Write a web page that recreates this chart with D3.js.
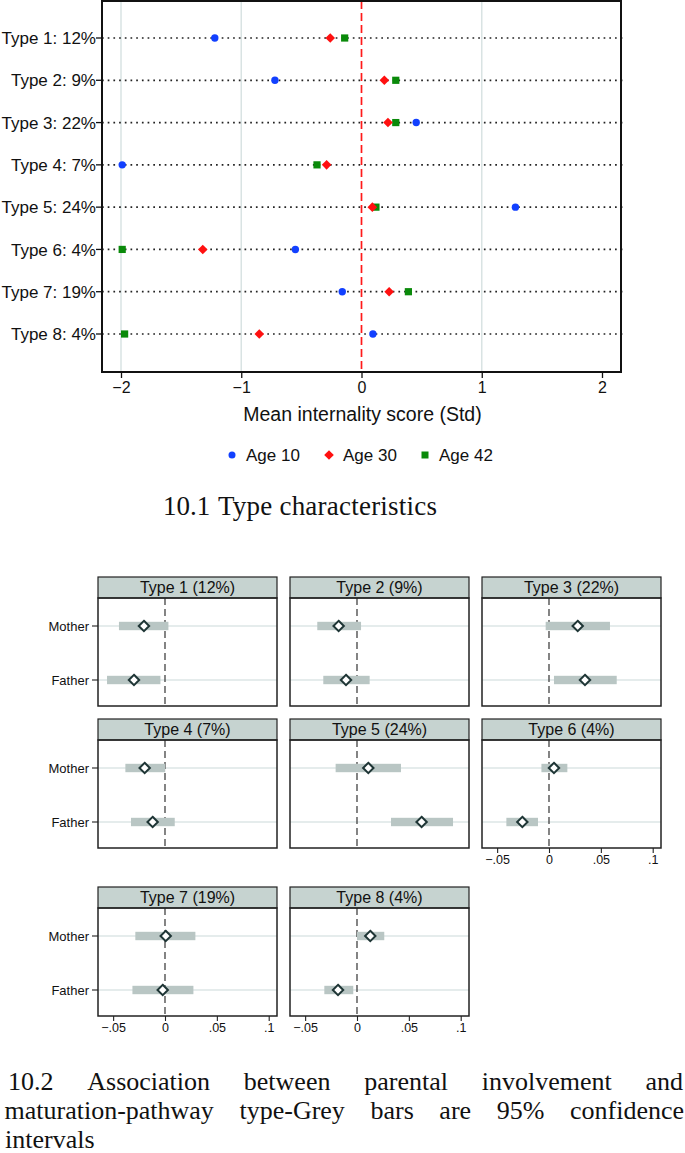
<!DOCTYPE html>
<html><head><meta charset="utf-8">
<script src="https://cdn.jsdelivr.net/npm/d3@7"></script>
<style>body{margin:0;background:#fff}svg{display:block}</style>
</head><body>
<svg id="c" width="685" height="1153"></svg>
<script>
// ---------- data: panel 10.1 ----------
const types = ["Type 1: 12%","Type 2: 9%","Type 3: 22%","Type 4: 7%","Type 5: 24%","Type 6: 4%","Type 7: 19%","Type 8: 4%"];
const age10 = [-1.22,-0.72,0.455,-1.99,1.28,-0.55,-0.16,0.095];
const age30 = [-0.26,0.19,0.22,-0.29,0.09,-1.32,0.23,-0.85];
const age42 = [-0.14,0.285,0.285,-0.37,0.12,-1.99,0.39,-1.97];
const seriesNames = ["Age 10","Age 30","Age 42"];
const xTicks = [-2,-1,0,1,2];
const gridTicks = [-2,-1,1];
const caption1Num = "10.1";
const caption1Text = "Type characteristics";

// ---------- data: panel 10.2 ----------
const panelTitles = ["Type 1 (12%)","Type 2 (9%)","Type 3 (22%)","Type 4 (7%)","Type 5 (24%)","Type 6 (4%)","Type 7 (19%)","Type 8 (4%)"];
const parents = ["Mother","Father"];
const motherEst = [-0.0203,-0.0177,0.0277,-0.0196,0.0109,0.0048,0.0007,0.0128];
const motherLo  = [-0.0444,-0.0383,-0.0032,-0.0382,-0.0206,-0.0073,-0.0286,0.0000];
const motherHi  = [0.0033,0.0039,0.0588,0.0002,0.0424,0.0177,0.0293,0.0263];
const fatherEst = [-0.0299,-0.0106,0.0347,-0.0119,0.0623,-0.0257,-0.0022,-0.0183];
const fatherLo  = [-0.0559,-0.0325,0.0048,-0.0328,0.0328,-0.0411,-0.0314,-0.0315];
const fatherHi  = [-0.0044,0.0122,0.0653,0.0094,0.0926,-0.0106,0.0274,-0.0036];
const panelTicks = [-0.05,0,0.05,0.1];
const caption2Lines = [
  "10.2 Association between parental involvement and",
  "maturation-pathway type-Grey bars are 95% confidence",
  "intervals"
];

const SANS = "'Liberation Sans', Arial, Helvetica, sans-serif";
const SERIF = "'Liberation Serif', 'Times New Roman', serif";
const svg = d3.select("#c");

// ================= Chart 1 =================
const f1 = {left:102, right:621, top:1, bottom:372};
const x1 = d3.scaleLinear().domain([-2.158, 2.158]).range([f1.left, f1.right]);
const y1 = d3.scalePoint().domain(types).range([38, 334]);
const g1 = svg.append("g");

g1.selectAll("line.grid").data(gridTicks).join("line")
  .attr("x1", d=>x1(d)).attr("x2", d=>x1(d)).attr("y1", f1.top).attr("y2", f1.bottom)
  .attr("stroke", "#d9e3e3").attr("stroke-width", 1.5);

g1.selectAll("line.row").data(types).join("line")
  .attr("x1", f1.left).attr("x2", f1.right+2).attr("y1", d=>y1(d)).attr("y2", d=>y1(d))
  .attr("stroke", "#222").attr("stroke-width", 1.7).attr("stroke-dasharray", "1.7,4");

g1.append("line").attr("x1", x1(0)).attr("x2", x1(0)).attr("y1", f1.top).attr("y2", f1.bottom)
  .attr("stroke", "#ff1a1a").attr("stroke-width", 1.7).attr("stroke-dasharray", "8,4");

g1.append("rect").attr("x", f1.left).attr("y", f1.top).attr("width", f1.right-f1.left).attr("height", f1.bottom-f1.top)
  .attr("fill", "none").attr("stroke", "#111").attr("stroke-width", 2);

g1.selectAll("line.yt").data(types).join("line")
  .attr("x1", f1.left-6).attr("x2", f1.left).attr("y1", d=>y1(d)).attr("y2", d=>y1(d))
  .attr("stroke", "#111").attr("stroke-width", 1.3);
g1.selectAll("text.yl").data(types).join("text")
  .attr("x", f1.left-6).attr("y", d=>y1(d)).attr("dy", "0.36em").attr("text-anchor", "end")
  .attr("font-family", SANS).attr("font-size", 17).attr("fill", "#111").text(d=>d);

const ax1 = g1.append("g").attr("transform", `translate(0,${f1.bottom})`)
  .call(d3.axisBottom(x1).tickValues(xTicks).tickSize(6).tickPadding(4)
    .tickFormat(d => d < 0 ? "\u2212" + Math.abs(d) : String(d)));
ax1.select(".domain").remove();
ax1.selectAll("line").attr("stroke", "#111").attr("stroke-width", 1.3);
ax1.selectAll("text").attr("font-family", SANS).attr("font-size", 16).attr("fill", "#111");

g1.append("text").attr("x", x1(0)+1).attr("y", 421).attr("text-anchor", "middle")
  .attr("font-family", SANS).attr("font-size", 19.5).attr("fill", "#111").text("Mean internality score (Std)");

const diamond = (cx, cy, r) => `M${cx},${cy-r}L${cx+r},${cy}L${cx},${cy+r}L${cx-r},${cy}Z`;
const mk = g1.append("g");
mk.selectAll("circle").data(age10).join("circle")
  .attr("cx", d=>x1(d)).attr("cy", (d,i)=>y1(types[i])).attr("r", 3.7).attr("fill", "#1240ff");
mk.selectAll("rect").data(age42).join("rect")
  .attr("x", d=>x1(d)-3.6).attr("y", (d,i)=>y1(types[i])-3.6).attr("width", 7.2).attr("height", 7.2).attr("fill", "#0a8a0a");
mk.selectAll("path").data(age30).join("path")
  .attr("d", (d,i)=>diamond(x1(d), y1(types[i]), 4.8)).attr("fill", "#ff1010");

const lg = g1.append("g").attr("font-family", SANS).attr("font-size", 17).attr("fill", "#111");
const legX = [232, 329, 425], legY = 455;
lg.append("circle").attr("cx", legX[0]).attr("cy", legY).attr("r", 3.5).attr("fill", "#1240ff");
lg.append("path").attr("d", diamond(legX[1], legY, 4.8)).attr("fill", "#ff1010");
lg.append("rect").attr("x", legX[2]-3.5).attr("y", legY-3.5).attr("width", 7).attr("height", 7).attr("fill", "#0a8a0a");
seriesNames.forEach((s,i)=>{
  lg.append("text").attr("x", legX[i]+14).attr("y", legY).attr("dy", "0.36em").text(s);
});

// caption 1
svg.append("text").attr("x", 163).attr("y", 515).attr("font-family", SERIF).attr("font-size", 27).attr("fill", "#111").text(caption1Num);
svg.append("text").attr("x", 218).attr("y", 515).attr("font-family", SERIF).attr("font-size", 27).attr("fill", "#111")
  .attr("textLength", 219).attr("lengthAdjust", "spacing").text(caption1Text);

// ================= Chart 2 (small multiples) =================
const colLeft = [98, 290, 482], rowTop = [577, 719, 887];
const PW = 179, HH = 21, PH = 108;
const xp = d3.scaleLinear().domain([-0.0646, 0.108]).range([0, PW]);
const yp = d3.scalePoint().domain(parents).range([28, 82]);
const tickFmt = d => d === 0 ? "0" : (d < 0 ? "\u2212" : "") + String(Math.abs(d)).replace(/^0/, "");

panelTitles.forEach((title, i) => {
  const col = i % 3, row = Math.floor(i / 3);
  const px = colLeft[col], py = rowTop[row];
  const g = svg.append("g").attr("transform", `translate(${px},${py})`);
  g.append("rect").attr("x", 0).attr("y", 0).attr("width", PW).attr("height", HH)
    .attr("fill", "#c6d3d0").attr("stroke", "#222").attr("stroke-width", 1.2);
  g.append("text").attr("x", PW/2).attr("y", HH/2).attr("dy", "0.36em").attr("text-anchor", "middle")
    .attr("font-family", SANS).attr("font-size", 16).attr("fill", "#111").text(title);
  const p = g.append("g").attr("transform", `translate(0,${HH})`);
  p.selectAll("line.hg").data(parents).join("line")
    .attr("x1", 0).attr("x2", PW).attr("y1", d=>yp(d)).attr("y2", d=>yp(d))
    .attr("stroke", "#dce6e6").attr("stroke-width", 1.5);
  p.append("line").attr("x1", xp(0)).attr("x2", xp(0)).attr("y1", 0).attr("y2", PH)
    .attr("stroke", "#333").attr("stroke-width", 1.2).attr("stroke-dasharray", "7,4");
  const rows = [
    {k:"Mother", est:motherEst[i], lo:motherLo[i], hi:motherHi[i]},
    {k:"Father", est:fatherEst[i], lo:fatherLo[i], hi:fatherHi[i]}
  ];
  p.selectAll("rect.ci").data(rows).join("rect")
    .attr("x", d=>xp(d.lo)).attr("width", d=>xp(d.hi)-xp(d.lo))
    .attr("y", d=>yp(d.k)-4.2).attr("height", 8.4).attr("fill", "#b9c6c4");
  p.selectAll("path.pt").data(rows).join("path")
    .attr("d", d=>diamond(xp(d.est), yp(d.k), 5.2))
    .attr("fill", "#fff").attr("stroke", "#1e3535").attr("stroke-width", 2);
  p.append("rect").attr("x", 0).attr("y", 0).attr("width", PW).attr("height", PH)
    .attr("fill", "none").attr("stroke", "#222").attr("stroke-width", 1.5);
  if (col === 0) {
    p.selectAll("line.lt").data(parents).join("line")
      .attr("x1", -6).attr("x2", 0).attr("y1", d=>yp(d)).attr("y2", d=>yp(d))
      .attr("stroke", "#222").attr("stroke-width", 1.1);
    p.selectAll("text.ll").data(parents).join("text")
      .attr("x", -9).attr("y", d=>yp(d)).attr("dy", "0.36em").attr("text-anchor", "end")
      .attr("font-family", SANS).attr("font-size", 13).attr("fill", "#111").text(d=>d);
  }
  if (i >= 5) {
    const ax = p.append("g").attr("transform", `translate(0,${PH})`)
      .call(d3.axisBottom(xp).tickValues(panelTicks).tickSize(5).tickPadding(2).tickFormat(tickFmt));
    ax.select(".domain").remove();
    ax.selectAll("line").attr("stroke", "#222").attr("stroke-width", 1.1);
    ax.selectAll("text").attr("font-family", SANS).attr("font-size", 12.5).attr("fill", "#111");
  }
});

// caption 2: justified lines
const cap = svg.append("g").attr("font-family", SERIF).attr("font-size", 26).attr("fill", "#111");
const lineSpec = [
  {left: 8, right: 683, y: 1090, justify: true},
  {left: 4.5, right: 684, y: 1119, justify: true},
  {left: 5, right: 684, y: 1148, justify: false}
];
caption2Lines.forEach((line, li) => {
  const L = lineSpec[li];
  const lw = line.split(" ");
  const nodes = lw.map(w => cap.append("text").attr("y", L.y).text(w));
  const widths = nodes.map(t => t.node().getComputedTextLength());
  const total = d3.sum(widths);
  const gap = (L.justify && lw.length > 1) ? (L.right - L.left - total) / (lw.length - 1) : 7;
  let cx = L.left;
  nodes.forEach((t, k) => { t.attr("x", cx); cx += widths[k] + gap; });
});
</script>
</body></html>
